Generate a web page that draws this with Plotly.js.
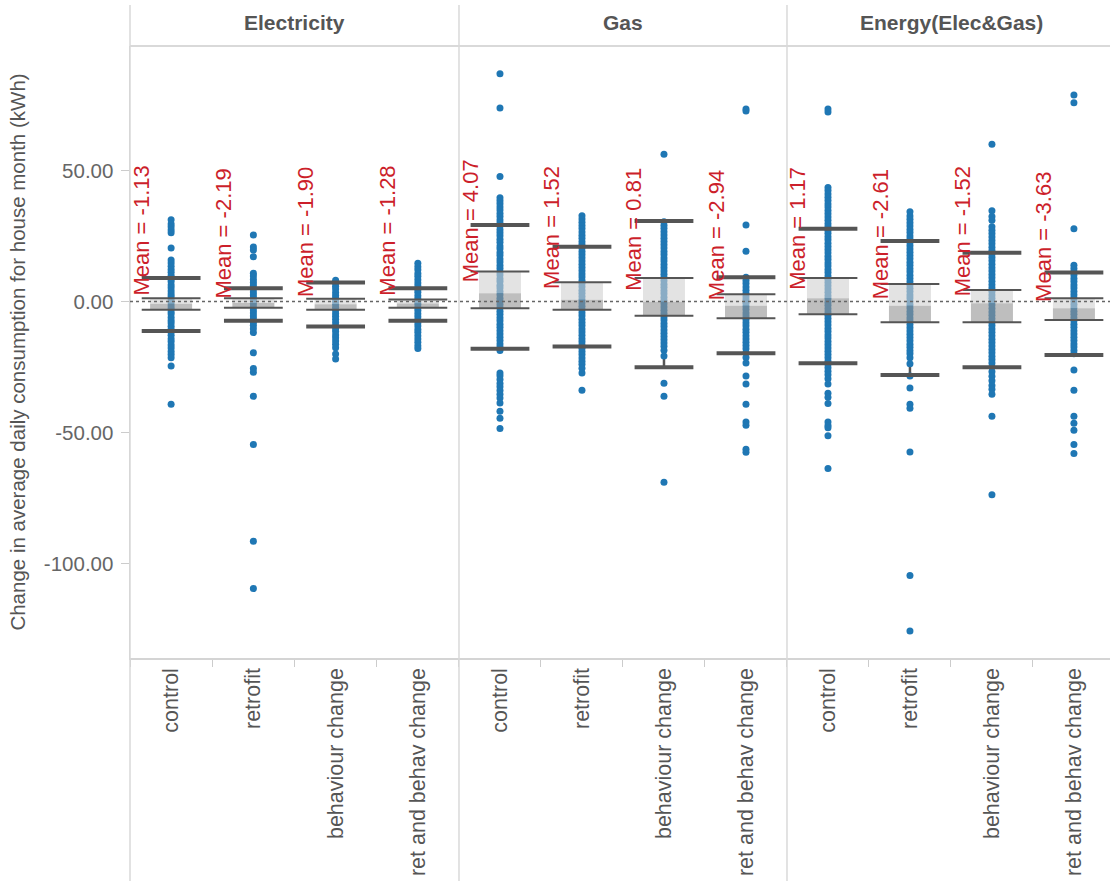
<!DOCTYPE html>
<html>
<head>
<meta charset="utf-8">
<script src="https://cdn.plot.ly/plotly-3.0.1.min.js"></script>
<style>html,body{margin:0;padding:0;background:#fff;}#chart{width:1110px;height:881px;}</style>
</head>
<body>
<div id="chart"></div>
<script>
// ---------- data ----------
const categories = ['control', 'retrofit', 'behaviour change', 'ret and behav change'];
const panelNames = ['Electricity', 'Gas', 'Energy(Elec&Gas)'];
const yTickVals = [50, 0, -50, -100];
const yTickText = ['50.00', '0.00', '-50.00', '-100.00'];
const yTitle = 'Change in average daily consumption for house month (kWh)';

// Electricity: individual houses
const elecControl = [31.2, 29.6, 28.5, 27.3, 26.2, 20.4, 15.8, 14.7, 13.4, 12.2, 11.1, 9.9, 8.6, 7.6, 6.3, 5.2, 4.0, 2.8, 1.9, 0.6, -0.5, -1.6, -2.7, -3.9, -4.8, -6.1, -7.3, -8.2, -9.5, -10.6, -11.7, -12.9, -14.2, -15.3, -16.6, -17.8, -19.1, -20.3, -21.5, -24.6, -39.2];
const elecRetrofit = [25.4, 20.8, 19.6, 17.1, 10.8, 9.7, 8.4, 7.2, 6.1, 4.9, 3.6, 2.5, 1.3, 0.3, -0.8, -2.0, -3.3, -4.4, -5.6, -6.7, -7.9, -9.1, -10.4, -11.9, -19.6, -25.6, -27.0, -36.2, -54.6, -91.5, -109.6];
const elecBehaviour = [8.1, 6.9, 5.8, 4.7, 3.4, 2.3, 1.2, 0.1, -1.1, -2.2, -3.4, -4.6, -5.7, -6.8, -8.0, -9.3, -10.4, -11.5, -12.8, -13.9, -15.1, -16.3, -17.7, -20.1, -22.0];
const elecRetBehav = [14.6, 13.2, 12.1, 10.7, 9.6, 8.3, 7.0, 5.9, 4.6, 3.5, 2.2, 1.0, -0.1, -1.2, -2.4, -3.5, -4.7, -5.8, -7.1, -8.2, -9.4, -10.7, -11.8, -13.1, -14.3, -15.6, -16.9, -18.0];
// Gas
const gasControl = [86.9, 73.8, 47.7, 39.6, 38.4, 37.3, 36.0, 34.9, 33.6, 32.4, 31.1, 29.9, 28.8, 27.4, 26.2, 25.1, 23.7, 22.6, 21.2, 20.1, 18.7, 17.6, 16.2, 15.1, 13.7, 12.6, 11.2, 10.1, 8.7, 7.6, 6.2, 5.1, 3.8, 2.6, 1.2, 0.1, -1.2, -2.4, -3.7, -4.9, -6.2, -7.4, -8.7, -9.9, -11.2, -12.4, -13.7, -14.9, -16.2, -17.4, -18.7, -27.3, -28.4, -29.8, -31.3, -32.6, -34.0, -35.4, -36.9, -38.8, -41.9, -44.6, -48.5];
const gasRetrofit = [32.7, 31.5, 30.2, 29.0, 27.8, 26.5, 25.3, 24.1, 22.8, 21.6, 20.4, 19.1, 17.9, 16.7, 15.4, 14.2, 13.0, 11.7, 10.5, 9.3, 8.0, 6.8, 5.6, 4.3, 3.1, 1.9, 0.6, -0.6, -1.8, -3.1, -4.3, -5.5, -6.8, -8.0, -9.2, -10.5, -11.7, -12.9, -14.2, -15.4, -16.6, -17.9, -19.1, -20.3, -21.6, -22.8, -24.0, -25.5, -27.3, -33.9];
const gasBehaviour = [56.2, 30.4, 29.1, 27.9, 26.6, 25.4, 24.1, 22.9, 21.6, 20.4, 19.1, 17.9, 16.6, 15.4, 14.1, 12.9, 11.6, 10.4, 9.1, 7.9, 6.6, 5.4, 4.1, 2.9, 1.6, 0.4, -0.9, -2.1, -3.4, -4.6, -5.9, -7.1, -8.4, -9.6, -10.9, -12.1, -13.4, -14.6, -15.9, -17.1, -18.6, -20.8, -31.2, -36.2, -69.0];
const gasRetBehav = [73.5, 72.7, 29.2, 19.2, 9.2, 8.0, 6.8, 5.5, 4.3, 3.0, 1.8, 0.6, -0.7, -1.9, -3.1, -4.4, -5.6, -6.9, -8.1, -9.3, -10.6, -11.8, -13.1, -14.3, -15.6, -16.8, -18.1, -19.6, -21.4, -23.5, -28.5, -31.5, -39.2, -46.0, -47.3, -56.4, -57.6];
// Energy
const energyControl = [73.5, 72.3, 43.5, 42.3, 41.0, 39.8, 38.5, 37.2, 36.0, 34.7, 33.5, 32.2, 31.0, 29.7, 28.5, 27.2, 26.0, 24.7, 23.5, 22.2, 21.0, 19.7, 18.5, 17.2, 16.0, 14.7, 13.5, 12.2, 11.0, 9.7, 8.5, 7.2, 6.0, 4.7, 3.5, 2.2, 1.0, -0.3, -1.5, -2.8, -4.0, -5.3, -6.5, -7.8, -9.0, -10.3, -11.5, -12.8, -14.0, -15.3, -16.5, -17.8, -19.0, -20.3, -21.5, -22.8, -24.0, -25.3, -26.6, -28.0, -29.5, -31.5, -35.0, -36.6, -39.0, -46.0, -47.4, -48.2, -51.3, -63.8];
const energyRetrofit = [34.2, 32.6, 31.4, 30.0, 28.8, 27.5, 26.3, 25.0, 23.8, 22.5, 21.3, 20.0, 18.8, 17.5, 16.3, 15.0, 13.8, 12.5, 11.3, 10.0, 8.8, 7.5, 6.3, 5.0, 3.8, 2.5, 1.3, 0.0, -1.3, -2.5, -3.8, -5.0, -6.3, -7.5, -8.8, -10.0, -11.3, -12.5, -13.8, -15.0, -16.3, -17.5, -18.8, -20.0, -21.5, -23.8, -28.5, -33.0, -39.2, -40.8, -57.5, -104.6, -125.8];
const energyBehaviour = [60.0, 34.6, 32.4, 31.0, 28.5, 27.2, 25.9, 24.6, 23.3, 22.0, 20.7, 19.4, 18.1, 16.8, 15.5, 14.2, 12.9, 11.6, 10.3, 9.0, 7.7, 6.4, 5.1, 3.8, 2.5, 1.2, -0.1, -1.4, -2.7, -4.0, -5.3, -6.6, -7.9, -9.2, -10.5, -11.8, -13.1, -14.4, -15.7, -17.0, -18.3, -19.6, -20.9, -22.2, -23.5, -25.0, -26.8, -28.6, -30.3, -32.1, -33.5, -35.4, -43.8, -73.8];
const energyRetBehav = [78.8, 75.8, 27.7, 13.8, 12.6, 11.3, 10.1, 8.8, 7.6, 6.3, 5.1, 3.8, 2.6, 1.3, 0.1, -1.2, -2.4, -3.7, -4.9, -6.2, -7.4, -8.7, -9.9, -11.2, -12.4, -13.7, -14.9, -16.2, -17.4, -18.7, -20.0, -26.2, -33.9, -43.8, -46.5, -49.2, -54.6, -58.0];

// box plot statistics per panel (order = categories)
const elecQ1 = [-3.2, -2.4, -3.2, -2.4];
const elecMedian = [-0.9, -0.6, -1.1, -0.8];
const elecQ3 = [1.2, 1.2, 1.0, 0.7];
const elecLowWhisker = [-11.3, -7.4, -9.6, -7.4];
const elecHighWhisker = [8.9, 5.0, 7.2, 5.0];
const elecMean = [-1.13, -2.19, -1.90, -1.28];

const gasQ1 = [-2.6, -3.2, -5.5, -6.4];
const gasMedian = [3.1, 0.6, -0.1, -1.6];
const gasQ3 = [11.4, 7.3, 8.9, 2.7];
const gasLowWhisker = [-18.1, -17.2, -25.1, -19.8];
const gasHighWhisker = [29.2, 20.9, 30.7, 9.2];
const gasMean = [4.07, 1.52, 0.81, -2.94];

const energyQ1 = [-4.9, -7.9, -7.9, -7.1];
const energyMedian = [1.2, -1.6, -0.7, -2.6];
const energyQ3 = [8.9, 6.7, 4.4, 1.2];
const energyLowWhisker = [-23.6, -28.1, -25.1, -20.4];
const energyHighWhisker = [27.7, 23.1, 18.6, 11.0];
const energyMean = [1.17, -2.61, -1.52, -3.63];

// ---------- build ----------
const panels = [
  {points: [elecControl, elecRetrofit, elecBehaviour, elecRetBehav], q1: elecQ1, med: elecMedian, q3: elecQ3, lo: elecLowWhisker, hi: elecHighWhisker, mean: elecMean},
  {points: [gasControl, gasRetrofit, gasBehaviour, gasRetBehav], q1: gasQ1, med: gasMedian, q3: gasQ3, lo: gasLowWhisker, hi: gasHighWhisker, mean: gasMean},
  {points: [energyControl, energyRetrofit, energyBehaviour, energyRetBehav], q1: energyQ1, med: energyMedian, q3: energyQ3, lo: energyLowWhisker, hi: energyHighWhisker, mean: energyMean}
];

const FONT = 'Liberation Sans, Arial, sans-serif';
const DARK = '#555555';
const BOXW = 42;
const traces = [];
const annotations = [];
const axNames = ['x', 'x2', 'x3'];

panels.forEach((p, k) => {
  const xa = axNames[k];
  const ya = 'y';
  const hidden = {size: 1, opacity: 0};
  // whisker stem
  traces.push({
    type: 'scatter', mode: 'markers', xaxis: xa, yaxis: ya, x: categories, y: p.med,
    marker: hidden, hoverinfo: 'skip', showlegend: false,
    error_y: {type: 'data', symmetric: false,
      array: p.hi.map((h, i) => h - p.med[i]),
      arrayminus: p.lo.map((l, i) => p.med[i] - l),
      width: 0, thickness: 2.5, color: DARK}
  });
  // dots
  const xs = [], ys = [];
  p.points.forEach((arr, i) => arr.forEach(v => { xs.push(categories[i]); ys.push(v); }));
  traces.push({
    type: 'scatter', mode: 'markers', xaxis: xa, yaxis: ya, x: xs, y: ys,
    marker: {size: 7, color: '#1f77b4'}, showlegend: false
  });
  // upper half of box (median -> Q3)
  traces.push({
    type: 'scatter', mode: 'markers', xaxis: xa, yaxis: ya, x: categories, y: p.med,
    marker: hidden, hoverinfo: 'skip', showlegend: false,
    error_y: {type: 'data', symmetric: false,
      array: p.q3.map((q, i) => q - p.med[i]),
      arrayminus: p.med.map(() => 0),
      width: 0, thickness: BOXW, color: 'rgba(208,208,208,0.6)'}
  });
  // lower half of box (Q1 -> median)
  traces.push({
    type: 'scatter', mode: 'markers', xaxis: xa, yaxis: ya, x: categories, y: p.med,
    marker: hidden, hoverinfo: 'skip', showlegend: false,
    error_y: {type: 'data', symmetric: false,
      array: p.med.map(() => 0),
      arrayminus: p.q1.map((q, i) => p.med[i] - q),
      width: 0, thickness: BOXW, color: 'rgba(147,147,147,0.6)'}
  });
  // hinges
  traces.push({
    type: 'scatter', mode: 'markers', xaxis: xa, yaxis: ya,
    x: categories.concat(categories), y: p.q1.concat(p.q3),
    marker: {symbol: 'line-ew', size: BOXW, line: {width: 2, color: DARK}},
    hoverinfo: 'skip', showlegend: false
  });
  // whisker caps
  traces.push({
    type: 'scatter', mode: 'markers', xaxis: xa, yaxis: ya,
    x: categories.concat(categories), y: p.lo.concat(p.hi),
    marker: {symbol: 'line-ew', size: BOXW, line: {width: 4, color: DARK}},
    hoverinfo: 'skip', showlegend: false
  });
  // mean labels
  p.mean.forEach((m, i) => {
    annotations.push({
      xref: xa, yref: ya, x: categories[i], y: m,
      text: 'Mean = ' + m.toFixed(2), textangle: -90, showarrow: false,
      xanchor: 'center', yanchor: 'bottom', xshift: -30, yshift: 7,
      font: {family: FONT, size: 22, color: '#cc1f2b'}
    });
  });
});

// panel headers (header band: 5px .. 46px from the top)
const domains = [[0, 0.3357], [0.3357, 0.6704], [0.6704, 1]];
const headerX = [0.168, 0.503, 0.838];
panelNames.forEach((n, k) => {
  annotations.push({
    xref: 'paper', yref: 'paper', x: headerX[k], y: 1.038, text: '<b>' + n + '</b>',
    showarrow: false, xanchor: 'center', yanchor: 'middle',
    font: {family: FONT, size: 21, color: '#555555'}
  });
});

const shapes = [];
[0, 0.3357, 0.6704].forEach(x => shapes.push({
  type: 'line', xref: 'paper', yref: 'paper', x0: x, x1: x, y0: -0.3642, y1: 1.0669,
  line: {color: '#d9d9d9', width: 1.5}
}));
shapes.push({type: 'line', xref: 'paper', yref: 'paper', x0: 0, x1: 1, y0: 1, y1: 1,
  line: {color: '#d9d9d9', width: 2}});
shapes.push({type: 'line', xref: 'paper', yref: 'y', x0: 0, x1: 1, y0: 0, y1: 0,
  layer: 'above', line: {color: '#666666', width: 1.5, dash: 'dot'}});

function xAxis(dom, range) {
  return {
    domain: dom, type: 'category', categoryorder: 'array', categoryarray: categories,
    range: range, tickson: 'boundaries', ticks: 'outside', ticklen: 7, tickcolor: '#cccccc',
    tickangle: -90, tickfont: {family: FONT, size: 21.5, color: '#555555'},
    showline: true, linecolor: '#d4d4d4', linewidth: 1.5, showgrid: false, zeroline: false,
    anchor: 'y', fixedrange: true
  };
}

const layout = {
  width: 1110, height: 881,
  margin: {l: 130, r: 0, t: 46, b: 223, pad: 0},
  paper_bgcolor: '#ffffff', plot_bgcolor: '#ffffff',
  font: {family: FONT, color: '#555555'},
  showlegend: false,
  xaxis: xAxis(domains[0], [-0.5, 3.5]),
  xaxis2: xAxis(domains[1], [-0.5, 3.5]),
  xaxis3: xAxis(domains[2], [-0.5, 3.44]),
  yaxis: {
    range: [-136.1, 97.5], tickvals: yTickVals, ticktext: yTickText,
    ticks: 'outside', ticklen: 8, tickcolor: '#cccccc', ticklabelstandoff: 3,
    tickfont: {family: FONT, size: 20.5, color: '#666666'},
    showline: true, linecolor: '#d4d4d4', linewidth: 1.5, showgrid: false, zeroline: false,
    title: {text: yTitle, font: {family: FONT, size: 20.5, color: '#555555'}, standoff: 12}
  },
  annotations: annotations,
  shapes: shapes
};

Plotly.newPlot('chart', traces, layout, {displayModeBar: false, staticPlot: true});
</script>
</body>
</html>
